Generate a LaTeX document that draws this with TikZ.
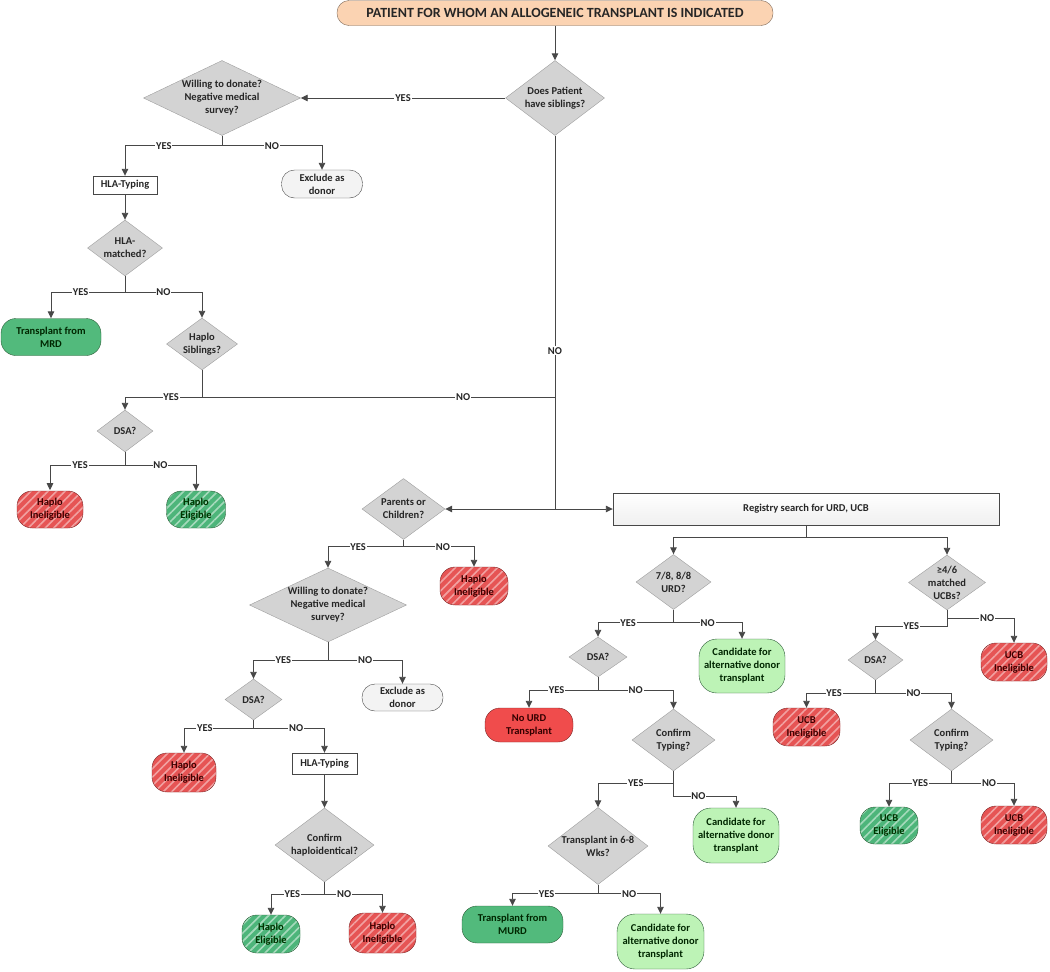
\documentclass[tikz,border=0pt]{standalone}
\usepackage{fontspec}
\setmainfont{Carlito}
\usepackage{tikz}
\usetikzlibrary{shapes}
\usetikzlibrary{arrows.meta,patterns.meta}

\definecolor{linegray}{HTML}{474747}
\definecolor{decgray}{HTML}{D3D3D3}
\definecolor{decedge}{HTML}{9E9E9E}
\definecolor{peach}{HTML}{FBD3B2}
\definecolor{peachedge}{HTML}{7A6656}
\definecolor{mrdgreen}{HTML}{52BA7C}
\definecolor{candgreen}{HTML}{BDF3B6}
\definecolor{greenedge}{HTML}{2F5E3A}
\definecolor{noredfill}{HTML}{F04C4C}
\definecolor{hatchred}{HTML}{E65454}
\definecolor{hatchgreen}{HTML}{4DB57A}
\definecolor{rededge}{HTML}{7A2A2A}
\definecolor{lightbox}{HTML}{F3F3F3}

\tikzstyle{txt} = [font=\bfseries\fontsize{10.5}{13}\selectfont, text=black!85, align=center]
\tikzstyle{decision} = [diamond, draw=decedge, fill=decgray, inner sep=0pt]
\tikzstyle{process} = [rectangle, draw=linegray, fill=white, txt, inner sep=1pt]
\tikzstyle{term} = [rectangle, rounded corners=15pt, txt, inner sep=1pt]
\tikzstyle{topbox} = [term, rounded corners=12pt, draw=peachedge, fill=peach, font=\bfseries\fontsize{14}{15}\selectfont]
\tikzstyle{exclbox} = [term, draw=linegray, fill=lightbox, rounded corners=13pt]
\tikzstyle{okbox} = [term, draw=greenedge, fill=mrdgreen, text=black!85!green]
\tikzstyle{candbox} = [term, draw=greenedge, fill=candgreen, rounded corners=18pt, text=black!85!green]
\tikzstyle{nobox} = [term, draw=rededge, fill=noredfill, text=black!80!red]
\tikzstyle{stripes} = [pattern={Lines[angle=45,distance=6pt,line width=1.6pt]}]
\tikzstyle{inelig} = [term, draw=rededge, preaction={fill=hatchred}, stripes, pattern color=white!45!hatchred, text=black!75!red]
\tikzstyle{elig} = [term, draw=greenedge, preaction={fill=hatchgreen}, stripes, pattern color=white!50!hatchgreen, text=black!80!green]
\tikzstyle{conn} = [draw=linegray, line width=0.9pt]
\tikzstyle{arr} = [conn, -{Triangle[length=7pt,width=6.5pt]}]
\tikzstyle{lbl} = [font=\bfseries\fontsize{10.5}{11}\selectfont, fill=white, inner sep=0.8pt, text=black!85]

\begin{document}
\begin{tikzpicture}[x=1pt,y=-1pt]
\useasboundingbox (0,0) rectangle (1050,972);

\node[topbox, minimum width=436pt, minimum height=25pt] (patient) at (555,13) {PATIENT FOR WHOM AN ALLOGENEIC TRANSPLANT IS INDICATED};
\node[decision, minimum width=99pt, minimum height=75pt, label={[txt]center:{Does Patient\\have siblings?}}] (sib) at (555,98) {};

% sibling branch
\node[decision, minimum width=157pt, minimum height=75pt, label={[txt]center:{Willing to donate?\\Negative medical\\survey?}}] (will1) at (222,98) {};
\node[process, minimum width=64pt, minimum height=18pt] (hla1) at (125,185) {HLA-Typing};
\node[exclbox, minimum width=81pt, minimum height=28pt] (excl1) at (322,184) {Exclude as\\donor};
\node[decision, minimum width=75pt, minimum height=56pt, label={[txt]center:{HLA-\\matched?}}] (hlam) at (125,248) {};
\node[okbox, minimum width=100pt, minimum height=37pt] (mrd) at (51,337) {Transplant from\\MRD};
\node[decision, minimum width=71pt, minimum height=52pt, label={[txt]center:{Haplo\\Siblings?}}] (haplosib) at (202,344) {};
\node[decision, minimum width=56pt, minimum height=42pt, label={[txt]center:DSA?}] (dsa1) at (125,431) {};
\node[inelig, minimum width=66pt, minimum height=37pt] (hin1) at (50,509.5) {Haplo\\Ineligible};
\node[elig, minimum width=59pt, minimum height=37pt] (hel1) at (196,509.5) {Haplo\\Eligible};

% parents or children
\coordinate (jh) at (555,397);
\coordinate (jn) at (555,509);
\node[decision, minimum width=83pt, minimum height=61pt, label={[txt]center:{Parents or\\Children?}}] (parents) at (403.5,509) {};
\node[inelig, minimum width=68pt, minimum height=38pt] (hin2) at (474,586) {Haplo\\Ineligible};
\node[decision, minimum width=157pt, minimum height=74pt, label={[txt]center:{Willing to donate?\\Negative medical\\survey?}}] (will2) at (328,605) {};
\node[exclbox, minimum width=81pt, minimum height=27pt] (excl2) at (402.5,697.5) {Exclude as\\donor};
\node[decision, minimum width=57pt, minimum height=41pt, label={[txt]center:DSA?}] (dsa2) at (253.5,699.5) {};
\node[inelig, minimum width=64pt, minimum height=39pt] (hin3) at (184,772.5) {Haplo\\Ineligible};
\node[process, minimum width=65pt, minimum height=21pt] (hla2) at (324.5,763.5) {HLA-Typing};
\node[decision, minimum width=99pt, minimum height=74pt, label={[txt]center:{Confirm\\haploidentical?}}] (confh) at (324.5,845) {};
\node[elig, minimum width=58pt, minimum height=38pt] (hel2) at (271,934) {Haplo\\Eligible};
\node[inelig, minimum width=67pt, minimum height=40pt] (hin4) at (382.5,933) {Haplo\\Ineligible};

% registry
\node[process, minimum width=386pt, minimum height=32pt, top color=white, bottom color=gray!12] (registry) at (806,509) {Registry search for URD, UCB};
\node[decision, minimum width=75pt, minimum height=55pt, label={[txt]center:{7/8, 8/8\\URD?}}] (urd) at (673.5,582) {};
\node[candbox, minimum width=86pt, minimum height=54pt] (cand1) at (742,666) {Candidate for\\alternative donor\\transplant};
\node[decision, minimum width=58pt, minimum height=40pt, label={[txt]center:DSA?}] (dsa3) at (598,657) {};
\node[nobox, minimum width=88pt, minimum height=34pt] (nourd) at (529,725) {No URD\\Transplant};
\node[decision, minimum width=83pt, minimum height=62pt, label={[txt]center:{Confirm\\Typing?}}] (conft1) at (673.5,740) {};
\node[candbox, minimum width=86pt, minimum height=55pt] (cand2) at (736,835.5) {Candidate for\\alternative donor\\transplant};
\node[decision, minimum width=100pt, minimum height=77pt, label={[txt]center:{Transplant in 6-8\\Wks?}}] (trans68) at (598,846) {};
\node[okbox, minimum width=101pt, minimum height=37pt] (murd) at (512.5,924.5) {Transplant from\\MURD};
\node[candbox, minimum width=87pt, minimum height=55pt] (cand3) at (660.5,941.5) {Candidate for\\alternative donor\\transplant};

\node[decision, minimum width=77pt, minimum height=55pt, label={[txt]center:{≥4/6\\matched\\UCBs?}}] (ucbs) at (947,582.5) {};
\node[inelig, minimum width=66pt, minimum height=38pt] (uin1) at (1014,662) {UCB\\Ineligible};
\node[decision, minimum width=55pt, minimum height=40pt, label={[txt]center:DSA?}] (dsa4) at (875.5,660) {};
\node[inelig, minimum width=67pt, minimum height=38pt] (uin2) at (806.5,727) {UCB\\Ineligible};
\node[decision, minimum width=83pt, minimum height=62pt, label={[txt]center:{Confirm\\Typing?}}] (conft2) at (951.5,740) {};
\node[elig, minimum width=58pt, minimum height=37pt] (uel) at (889,825.5) {UCB\\Eligible};
\node[inelig, minimum width=66pt, minimum height=38pt] (uin3) at (1014,825) {UCB\\Ineligible};

% connectors
\draw[arr] (patient.south) -- (sib.north);
\draw[arr] (sib.west) -- node[lbl]{YES} (will1.east);
\draw[arr] (will1.south) -- ++(0,10) -| node[lbl,pos=0.3]{YES} (hla1.north);
\draw[arr] (will1.south) -- ++(0,10) -| node[lbl,pos=0.25]{NO} (excl1.north);
\draw[arr] (hla1.south) -- (hlam.north);
\draw[arr] (hlam.south) -- ++(0,16) -| node[lbl,pos=0.3]{YES} (mrd.north);
\draw[arr] (hlam.south) -- ++(0,16) -| node[lbl,pos=0.25]{NO} (haplosib.north);
\draw[arr] (haplosib.south) -- ++(0,27) -| node[lbl,pos=0.2]{YES} (dsa1.north);
\draw[arr] (dsa1.south) -- ++(0,13) -| node[lbl,pos=0.3]{YES} (hin1.north);
\draw[arr] (dsa1.south) -- ++(0,13) -| node[lbl,pos=0.25]{NO} (hel1.north);

\draw[conn] (sib.south) -- node[lbl,pos=0.576]{NO} (jn);
\draw[conn] (haplosib.south) |- node[lbl,pos=0.87]{NO} (jh);
\draw[arr] (jn) -- (parents.east);
\draw[arr] (jn) -- (registry.west);

\draw[arr] (parents.south) -- ++(0,7) -| node[lbl,pos=0.3]{YES} (will2.north);
\draw[arr] (parents.south) -- ++(0,7) -| node[lbl,pos=0.28]{NO} (hin2.north);
\draw[arr] (will2.south) -- ++(0,18) -| node[lbl,pos=0.3]{YES} (dsa2.north);
\draw[arr] (will2.south) -- ++(0,18) -| node[lbl,pos=0.25]{NO} (excl2.north);
\draw[arr] (dsa2.south) -- ++(0,8) -| node[lbl,pos=0.35]{YES} (hin3.north);
\draw[arr] (dsa2.south) -- ++(0,8) -| node[lbl,pos=0.3]{NO} (hla2.north);
\draw[arr] (hla2.south) -- (confh.north);
\draw[arr] (confh.south) -- ++(0,12) -| node[lbl,pos=0.3]{YES} (hel2.north);
\draw[arr] (confh.south) -- ++(0,12) -| node[lbl,pos=0.17]{NO} (hin4.north);

\draw[arr] (registry.south) -- ++(0,12) -| (urd.north);
\draw[arr] (registry.south) -- ++(0,12) -| (ucbs.north);
\draw[arr] (urd.south) -- ++(0,13) -| node[lbl,pos=0.3]{YES} (dsa3.north);
\draw[arr] (urd.south) -- ++(0,13) -| node[lbl,pos=0.25]{NO} (cand1.north);
\draw[arr] (dsa3.south) -- ++(0,13) -| node[lbl,pos=0.3]{YES} (nourd.north);
\draw[arr] (dsa3.south) -- ++(0,13) -| node[lbl,pos=0.25]{NO} (conft1.north);
\draw[arr] (conft1.south) -- ++(0,12) -| node[lbl,pos=0.25]{YES} (trans68.north);
\draw[arr] (conft1.south) -- ++(0,25) -| node[lbl,pos=0.2]{NO} (cand2.north);
\draw[arr] (trans68.south) -- ++(0,9) -| node[lbl,pos=0.3]{YES} (murd.north);
\draw[arr] (trans68.south) -- ++(0,9) -| node[lbl,pos=0.25]{NO} (cand3.north);
\draw[arr] (ucbs.south) -- ++(0,16) -| node[lbl,pos=0.25]{YES} (dsa4.north);
\draw[arr] (ucbs.south) -- ++(0,8) -| node[lbl,pos=0.3]{NO} (uin1.north);
\draw[arr] (dsa4.south) -- ++(0,13) -| node[lbl,pos=0.3]{YES} (uin2.north);
\draw[arr] (dsa4.south) -- ++(0,13) -| node[lbl,pos=0.25]{NO} (conft2.north);
\draw[arr] (conft2.south) -- ++(0,12) -| node[lbl,pos=0.25]{YES} (uel.north);
\draw[arr] (conft2.south) -- ++(0,12) -| node[lbl,pos=0.3]{NO} (uin3.north);
\end{tikzpicture}
\end{document}
